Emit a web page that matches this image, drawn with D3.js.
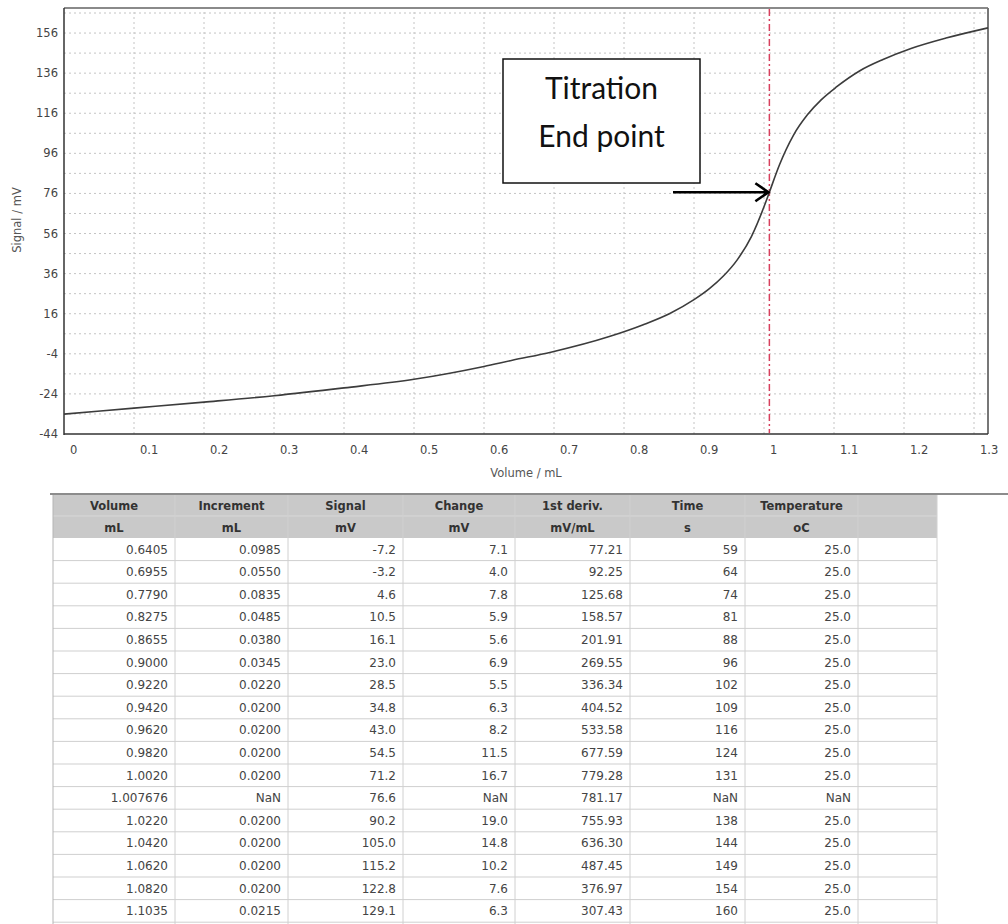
<!DOCTYPE html>
<html>
<head>
<meta charset="utf-8">
<script src="https://cdn.jsdelivr.net/npm/d3@7"></script>
<style>
  html, body { margin: 0; padding: 0; background: #fff; }
  svg { display: block; }
  .tick-lbl { font-family: "DejaVu Sans", sans-serif; font-size: 11.5px; fill: #444; }
  .axis-title { font-family: "DejaVu Sans", sans-serif; font-size: 11.5px; fill: #555; }
  .note { font-family: Lato, "Open Sans", sans-serif; font-size: 30px; fill: #111; }
  .th { font-family: "DejaVu Sans", sans-serif; font-size: 11.5px; font-weight: bold; fill: #333; }
  .td { font-family: "DejaVu Sans", sans-serif; font-size: 12px; fill: #444; }
</style>
</head>
<body>
<svg id="chart" width="1008" height="924"></svg>
<script>
// table values
const volume    = [0.6405, 0.6955, 0.7790, 0.8275, 0.8655, 0.9000, 0.9220, 0.9420, 0.9620, 0.9820, 1.0020, 1.007676, 1.0220, 1.0420, 1.0620, 1.0820, 1.1035];
const increment = [0.0985, 0.0550, 0.0835, 0.0485, 0.0380, 0.0345, 0.0220, 0.0200, 0.0200, 0.0200, 0.0200, NaN, 0.0200, 0.0200, 0.0200, 0.0200, 0.0215];
const signal    = [-7.2, -3.2, 4.6, 10.5, 16.1, 23.0, 28.5, 34.8, 43.0, 54.5, 71.2, 76.6, 90.2, 105.0, 115.2, 122.8, 129.1];
const change    = [7.1, 4.0, 7.8, 5.9, 5.6, 6.9, 5.5, 6.3, 8.2, 11.5, 16.7, NaN, 19.0, 14.8, 10.2, 7.6, 6.3];
const deriv     = [77.21, 92.25, 125.68, 158.57, 201.91, 269.55, 336.34, 404.52, 533.58, 677.59, 779.28, 781.17, 755.93, 636.30, 487.45, 376.97, 307.43];
const timeS     = [59, 64, 74, 81, 88, 96, 102, 109, 116, 124, 131, NaN, 138, 144, 149, 154, 160];
const tempC     = [25.0, 25.0, 25.0, 25.0, 25.0, 25.0, 25.0, 25.0, 25.0, 25.0, 25.0, NaN, 25.0, 25.0, 25.0, 25.0, 25.0];

const colNames = ["Volume", "Increment", "Signal", "Change", "1st deriv.", "Time", "Temperature"];
const colUnits = ["mL", "mL", "mV", "mV", "mV/mL", "s", "oC"];

// curve outside the table range, estimated from the plot
const leadVol = [0, 0.10, 0.20, 0.30, 0.40, 0.50, 0.60];
const leadSig = [-34.1, -31.1, -28.1, -24.9, -21.0, -16.7, -10.3];
const tailVol = [1.137, 1.17, 1.21, 1.26, 1.32];
const tailSig = [137.2, 142.8, 148.3, 153.5, 158.6];

const endPoint = { v: 1.007676, s: 76.6 };

const xTicks = d3.range(0, 14).map(k => k / 10);
const yTicks = d3.range(-44, 157, 20);
const yGrid  = d3.range(-44, 167, 10);

const svg = d3.select("#chart");

const x = d3.scaleLinear().domain([0, 1.32]).range([64, 988]);
const y = d3.scaleLinear().domain([-44, 168.5]).range([434, 8]);

// grid
const grid = svg.append("g").attr("stroke", "#c4c4c4").attr("stroke-dasharray", "2,3");
grid.selectAll("line.hg").data(yGrid.slice(1)).join("line")
  .attr("x1", x.range()[0]).attr("x2", x.range()[1])
  .attr("y1", d => y(d)).attr("y2", d => y(d));
grid.selectAll("line.vg").data(xTicks.slice(1)).join("line")
  .attr("y1", y.range()[0]).attr("y2", y.range()[1])
  .attr("x1", d => x(d)).attr("x2", d => x(d));

// frame
svg.append("line").attr("x1", 64).attr("x2", 988).attr("y1", 8).attr("y2", 8)
  .attr("stroke", "#8a8a8a").attr("stroke-width", 2);
svg.append("line").attr("x1", 988).attr("x2", 988).attr("y1", 8).attr("y2", 434)
  .attr("stroke", "#777").attr("stroke-width", 2);
svg.append("line").attr("x1", 64).attr("x2", 64).attr("y1", 8).attr("y2", 435)
  .attr("stroke", "#333").attr("stroke-width", 1.5);
svg.append("line").attr("x1", 64).attr("x2", 988).attr("y1", 434).attr("y2", 434)
  .attr("stroke", "#333").attr("stroke-width", 1.5);

// tick labels
svg.selectAll("text.yl").data(yTicks).join("text")
  .attr("class", "tick-lbl").attr("x", 58).attr("y", d => y(d)).attr("dy", "0.35em")
  .attr("text-anchor", "end").text(d => d);
svg.selectAll("text.xl").data(xTicks).join("text")
  .attr("class", "tick-lbl").attr("x", d => x(d) + 6).attr("y", 450).attr("dy", "0.35em")
  .attr("text-anchor", "start").text(d => d3.format("~g")(d));

svg.append("text").attr("class", "axis-title")
  .attr("x", 526).attr("y", 473).attr("dy", "0.35em").attr("text-anchor", "middle")
  .text("Volume / mL");
svg.append("text").attr("class", "axis-title")
  .attr("transform", "translate(17,220) rotate(-90)").attr("dy", "0.35em")
  .attr("text-anchor", "middle").text("Signal / mV");

// end point marker
svg.append("line")
  .attr("x1", x(endPoint.v)).attr("x2", x(endPoint.v)).attr("y1", 9).attr("y2", 433)
  .attr("stroke", "#d8405e").attr("stroke-width", 1.5).attr("stroke-dasharray", "7,3,2,3");

// titration curve
const curveVol = leadVol.concat(volume, tailVol);
const curveSig = leadSig.concat(signal, tailSig);
const line = d3.line().x(d => x(d[0])).y(d => y(d[1])).curve(d3.curveMonotoneX);
svg.append("path")
  .datum(curveVol.map((v, i) => [v, curveSig[i]]))
  .attr("d", line).attr("fill", "none").attr("stroke", "#3c3c3c").attr("stroke-width", 1.6);

// annotation
svg.append("rect").attr("x", 503).attr("y", 59).attr("width", 197).attr("height", 124)
  .attr("fill", "#fff").attr("stroke", "#111").attr("stroke-width", 1.5);
svg.append("text").attr("class", "note").attr("x", 601.5).attr("y", 99)
  .attr("text-anchor", "middle").text("Titration");
svg.append("text").attr("class", "note").attr("x", 601.5).attr("y", 147)
  .attr("text-anchor", "middle").text("End point");

const ax = x(endPoint.v), ay = y(endPoint.s);
svg.append("path")
  .attr("d", `M673,${ay}L${ax - 1},${ay}M${ax - 14},${ay - 9}L${ax - 1},${ay}L${ax - 14},${ay + 9}`)
  .attr("fill", "none").attr("stroke", "#000").attr("stroke-width", 2.6);

// table
const colEdges = [53, 175, 288, 403, 515, 630, 745, 858, 937];
const tableTop = 494, headH = 22, rowH = 22.6;
const nRows = volume.length;
const tableBottom = tableTop + headH * 2 + rowH * nRows;

const tbl = svg.append("g");
tbl.append("rect").attr("x", colEdges[0]).attr("y", tableTop)
  .attr("width", colEdges[colEdges.length - 1] - colEdges[0]).attr("height", headH * 2)
  .attr("fill", "#c9c9c9");
tbl.append("line").attr("x1", colEdges[0]).attr("x2", colEdges[colEdges.length - 1])
  .attr("y1", tableTop + headH).attr("y2", tableTop + headH).attr("stroke", "#d8d8d8");

// row lines
tbl.selectAll("line.row").data(d3.range(nRows)).join("line")
  .attr("x1", colEdges[0]).attr("x2", colEdges[colEdges.length - 1])
  .attr("y1", i => tableTop + headH * 2 + rowH * (i + 1))
  .attr("y2", i => tableTop + headH * 2 + rowH * (i + 1))
  .attr("stroke", "#cfcfcf");
// column lines
tbl.selectAll("line.col").data(colEdges).join("line")
  .attr("x1", d => d).attr("x2", d => d)
  .attr("y1", tableTop).attr("y2", tableBottom + 2)
  .attr("stroke", (d, i) => i === 0 ? "#b5b5b5" : "#d0d0d0");

// panel line over the header
svg.append("line").attr("x1", 50).attr("x2", 1008).attr("y1", tableTop).attr("y2", tableTop)
  .attr("stroke", "#8c8c8c").attr("stroke-width", 2);

colNames.forEach((name, j) => {
  const cx = (colEdges[j] + colEdges[j + 1]) / 2;
  tbl.append("text").attr("class", "th").attr("x", cx).attr("y", tableTop + headH / 2 + 1)
    .attr("dy", "0.35em").attr("text-anchor", "middle").text(name);
  tbl.append("text").attr("class", "th").attr("x", cx).attr("y", tableTop + headH * 1.5 + 1)
    .attr("dy", "0.35em").attr("text-anchor", "middle").text(colUnits[j]);
});

function fmtVol(v) {
  const s = v.toFixed(4);
  return Math.abs(+s - v) > 1e-9 ? String(v) : s;
}
function fmt(digits) {
  return v => isNaN(v) ? "NaN" : v.toFixed(digits);
}
const columns = [
  [volume, fmtVol],
  [increment, fmt(4)],
  [signal, fmt(1)],
  [change, fmt(1)],
  [deriv, fmt(2)],
  [timeS, fmt(0)],
  [tempC, fmt(1)]
];

columns.forEach(([vals, f], j) => {
  tbl.selectAll("text.c" + j).data(vals).join("text")
    .attr("class", "td").attr("x", colEdges[j + 1] - 7)
    .attr("y", (d, i) => tableTop + headH * 2 + rowH * i + rowH / 2)
    .attr("dy", "0.35em").attr("text-anchor", "end")
    .text(f);
});
</script>
</body>
</html>
